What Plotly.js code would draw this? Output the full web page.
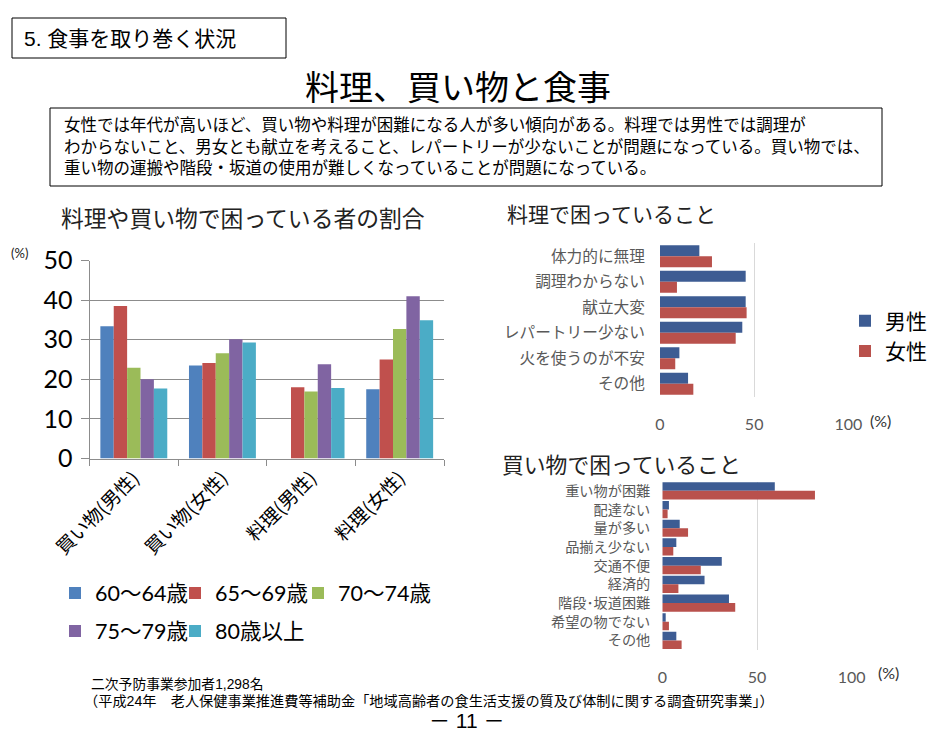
<!DOCTYPE html>
<html><head><meta charset="utf-8">
<script src="https://cdn.plot.ly/plotly-3.0.1.min.js"></script>
<style>html,body{margin:0;padding:0;background:#fff}#chart{width:942px;height:737px}</style>
</head><body><div id="chart"></div>
<script>
// ---- data ----
const groups = ["買い物(男性)", "買い物(女性)", "料理(男性)", "料理(女性)"];
const ageGroups = ["60～64歳", "65～69歳", "70～74歳", "75～79歳", "80歳以上"];
const age60_64 = [33.4, 23.5, 0, 17.5];
const age65_69 = [38.5, 24.1, 18.0, 25.0];
const age70_74 = [22.9, 26.6, 16.9, 32.7];
const age75_79 = [20.0, 30.1, 23.8, 41.0];
const age80plus = [17.7, 29.3, 17.8, 34.9];

const sexes = ["男性", "女性"];
const cookingItems = ["体力的に無理", "調理わからない", "献立大変", "レパートリー少ない", "火を使うのが不安", "その他"];
const cookingMale = [20.9, 45.5, 45.5, 43.7, 10.3, 14.9];
const cookingFemale = [27.6, 9.0, 46.0, 40.2, 8.1, 17.7];

const shoppingItems = ["重い物が困難", "配達ない", "量が多い", "品揃え少ない", "交通不便", "経済的", "階段･坂道困難", "希望の物でない", "その他"];
const shoppingMale = [59.4, 3.5, 9.2, 7.4, 31.4, 22.3, 35.2, 1.8, 7.4];
const shoppingFemale = [80.6, 2.8, 13.6, 5.8, 20.3, 8.5, 38.5, 3.5, 10.2];

const pctTicks = [0, 50, 100];
const leftTicks = [0, 10, 20, 30, 40, 50];

// ---- styling helpers ----
const W = 942, H = 737;
const fx = x => x / W;
const fy = y => 1 - y / H;
const JP = "'Noto Sans CJK JP', sans-serif";
const JPT = "'Liberation Sans', 'Noto Sans CJK JP', sans-serif";
const NUM = "Lato, 'Noto Sans CJK JP', sans-serif";
const ageColors = ["#4F81BD", "#C0504D", "#9BBB59", "#8064A2", "#4BACC6"];
const sexColors = ["#3D5C93", "#B9514C"];

// legend slot positions (left px, centre y px) for the five age groups
const ageLegendPos = [[55, 593], [175, 593], [298, 593], [55, 631], [175, 631]];

const ageSeries = [age60_64, age65_69, age70_74, age75_79, age80plus];
const traces = [];
ageSeries.forEach((vals, i) => {
  traces.push({
    type: "bar", x: groups, y: vals, name: ageGroups[i],
    marker: {color: ageColors[i]}, xaxis: "x", yaxis: "y",
    legend: i === 0 ? "legend" : "legend" + (i + 1), hoverinfo: "y"
  });
});
[cookingMale, cookingFemale].forEach((vals, i) => {
  traces.push({
    type: "bar", orientation: "h", x: vals, y: cookingItems, name: sexes[i],
    marker: {color: sexColors[i]}, xaxis: "x2", yaxis: "y2",
    offset: i === 0 ? -0.43 : 0, width: 0.43, legend: "legend6", showlegend: true
  });
});
[shoppingMale, shoppingFemale].forEach((vals, i) => {
  traces.push({
    type: "bar", orientation: "h", x: vals, y: shoppingItems, name: sexes[i],
    marker: {color: sexColors[i]}, xaxis: "x3", yaxis: "y3",
    offset: i === 0 ? -0.46 : 0, width: 0.46, showlegend: false
  });
});

const textLines = [
  "女性では年代が高いほど、買い物や料理が困難になる人が多い傾向がある。料理では男性では調理が",
  "わからないこと、男女とも献立を考えること、レパートリーが少ないことが問題になっている。買い物では、",
  "重い物の運搬や階段・坂道の使用が難しくなっていることが問題になっている。"
];

const ann = (text, x, y, size, opts) => Object.assign({
  text: text, x: fx(x), y: fy(y), xref: "paper", yref: "paper",
  showarrow: false, xanchor: "left", yanchor: "middle",
  font: {family: JPT, size: size, color: "#000"}
}, opts || {});

const annotations = [
  ann("5. 食事を取り巻く状況", 22, 39, 21),
  ann("料理、買い物と食事", 458, 88, 34, {xanchor: "center"}),
  ann(textLines[0], 62, 125, 16.5),
  ann(textLines[1], 62, 146.5, 16.5),
  ann(textLines[2], 62, 168, 16.5),
  ann("料理や買い物で困っている者の割合", 59, 219, 22.8, {font: {family: JPT, size: 22.8, color: "#222"}}),
  ann("(%)", 9, 253, 13, {font: {family: NUM, size: 13, color: "#222"}}),
  ann("料理で困っていること", 505, 214, 21, {font: {family: JPT, size: 21, color: "#222"}}),
  ann("(%)", 868, 421, 16, {font: {family: NUM, size: 16, color: "#333"}}),
  ann("買い物で困っていること", 500, 465, 21.8, {font: {family: JPT, size: 21.8, color: "#222"}}),
  ann("(%)", 876, 672, 16, {font: {family: NUM, size: 16, color: "#333"}}),
  ann("二次予防事業参加者1,298名", 89, 684, 13.8),
  ann("（平成24年　老人保健事業推進費等補助金「地域高齢者の食生活支援の質及び体制に関する調査研究事業」）", 82, 700.5, 14.2),
  ann("－ 11 －", 466, 720, 21, {xanchor: "center"})
];

const shapes = [
  {type: "rect", xref: "paper", yref: "paper", x0: fx(12), x1: fx(286), y0: fy(18), y1: fy(58), line: {color: "#000", width: 1}},
  {type: "rect", xref: "paper", yref: "paper", x0: fx(50), x1: fx(882), y0: fy(108), y1: fy(186), line: {color: "#000", width: 1}}
];

const gray = "#8c8c8c";
const layout = {
  width: W, height: H, margin: {l: 0, r: 0, t: 0, b: 0},
  paper_bgcolor: "#fff", plot_bgcolor: "rgba(0,0,0,0)",
  barmode: "group", bargap: 0.245, bargroupgap: 0,
  font: {family: JP},
  xaxis: {
    domain: [fx(89.5), fx(444)], anchor: "y", type: "category",
    tickangle: -45, tickfont: {family: JP, size: 19, color: "#000"},
    showline: true, linecolor: gray, linewidth: 1,
    ticks: "outside", tickson: "boundaries", ticklen: 6, tickcolor: gray,
    showgrid: false, fixedrange: true
  },
  yaxis: {
    domain: [fy(458.5), fy(260.5)], anchor: "x", range: [0, 50], tickvals: leftTicks,
    tickfont: {family: NUM, size: 25, color: "#000"},
    showgrid: true, gridcolor: gray, gridwidth: 1, zeroline: false,
    showline: true, linecolor: gray, ticks: "outside", ticklen: 8, tickcolor: gray,
    ticklabelstandoff: 3
  },
  xaxis2: {
    domain: [fx(660), fx(848.3)], anchor: "y2", range: [0, 100], tickvals: pctTicks,
    tickfont: {family: NUM, size: 16, color: "#595959"},
    showgrid: true, gridcolor: "#d9d9d9", zeroline: true, zerolinecolor: "#fff",
    showline: false, ticks: "", ticklabelstandoff: 16
  },
  yaxis2: {
    domain: [fy(396.6), fy(243.4)], anchor: "x2", type: "category", range: [5.5, -0.5],
    tickfont: {family: JP, size: 15.7, color: "#595959"}, showgrid: false, ticks: "",
    showline: false, ticklabelstandoff: 14
  },
  xaxis3: {
    domain: [fx(662.3), fx(851.7)], anchor: "y3", range: [0, 100], tickvals: pctTicks,
    tickfont: {family: NUM, size: 16, color: "#595959"},
    showgrid: true, gridcolor: "#d9d9d9", zeroline: true, zerolinecolor: "#fff",
    showline: false, ticks: "", ticklabelstandoff: 16
  },
  yaxis3: {
    domain: [fy(649.8), fy(481.5)], anchor: "x3", type: "category", range: [8.5, -0.5],
    tickfont: {family: JP, size: 14.2, color: "#595959"}, showgrid: false, ticks: "",
    showline: false, ticklabelstandoff: 11
  },
  legend6: {
    orientation: "v", x: fx(845), y: fy(336), xanchor: "left", yanchor: "middle",
    font: {family: JP, size: 21, color: "#000"}, itemwidth: 30, traceorder: "normal",
    bgcolor: "rgba(0,0,0,0)"
  },
  annotations: annotations,
  shapes: shapes,
  showlegend: true
};
ageLegendPos.forEach((p, i) => {
  layout[i === 0 ? "legend" : "legend" + (i + 1)] = {
    orientation: "h", x: fx(p[0]), y: fy(p[1]), xanchor: "left", yanchor: "middle",
    font: {family: NUM, size: 21.5, color: "#000"}, itemwidth: 30,
    bgcolor: "rgba(0,0,0,0)"
  };
});

Plotly.newPlot("chart", traces, layout, {displayModeBar: false, staticPlot: true});
</script>
</body></html>
